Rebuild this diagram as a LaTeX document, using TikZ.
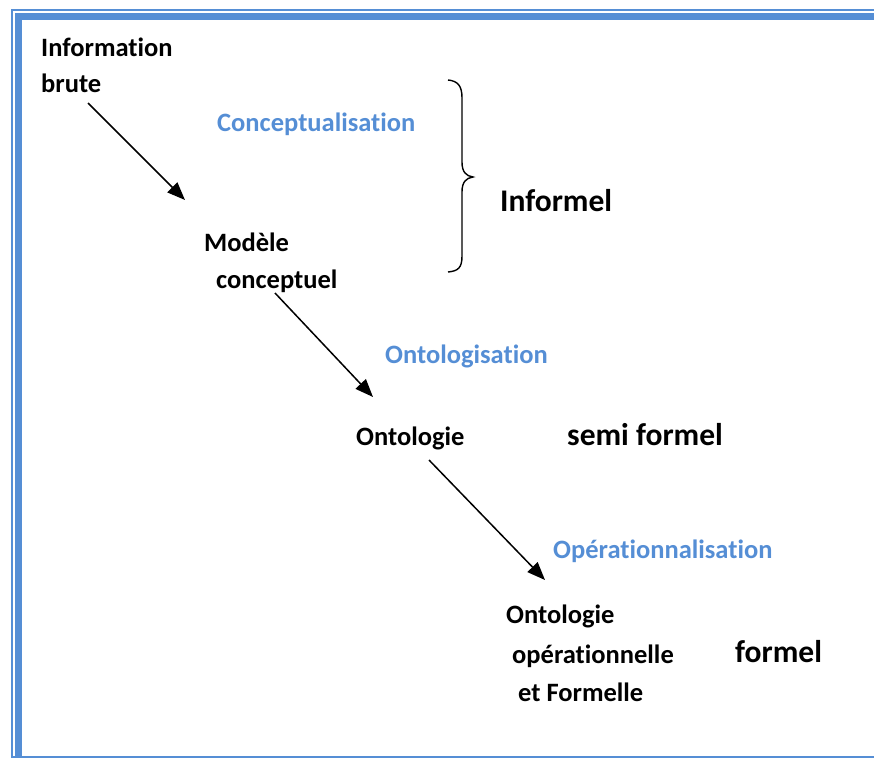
\documentclass[tikz,border=0pt]{standalone}
\usepackage{fontspec}
\setmainfont[Ligatures={NoCommon}]{Carlito}
\usetikzlibrary{arrows.meta}
\definecolor{wblue}{RGB}{85,142,213}
\begin{document}
\begin{tikzpicture}[x=1pt,y=-1pt,
  lbl/.style={anchor=base west,inner sep=0pt,font=\fontsize{26.5}{32}\selectfont\bfseries},
  phase/.style={lbl,text=wblue},
  level/.style={anchor=base west,inner sep=0pt,font=\fontsize{31.5}{38}\selectfont\bfseries},
  flow/.style={line width=1.5pt,-{Triangle[length=18pt,width=14pt]}},
  frame/.style={draw=wblue}]
\useasboundingbox (0,0) rectangle (874,758);
% frame
\draw[frame,line width=2pt] (874,10) -- (12,10) -- (12,758);
\draw[frame,line width=7pt] (874,16.5) -- (18,16.5) -- (18,758);
\draw[frame,line width=1.5pt] (12,757) -- (874,757);
% labels
\node[lbl] (info1) at (41,56) {Information};
\node[lbl] (info2) at (41,92) {brute};
\node[phase] (concep) at (217,131) {Conceptualisation};
\node[level] (informel) at (500,211) {Informel};
\node[lbl] (mod1) at (204,251) {Modèle};
\node[lbl] (mod2) at (216,288) {conceptuel};
\node[phase] (ontos) at (385,363) {Ontologisation};
\node[lbl] (onto) at (356,445) {Ontologie};
\node[level] (semi) at (567,445) {semi formel};
\node[phase] (oper) at (553,558) {Opérationnalisation};
\node[lbl] (op1) at (506,623) {Ontologie};
\node[lbl] (op2) at (512,663) {opérationnelle};
\node[lbl] (op3) at (518,701) {et Formelle};
\node[level] (formel) at (735,662) {formel};
% brace
\draw[line width=1.4pt] (448,80) .. controls (458,81) and (462,86) .. (462,98)
  -- (462,162) .. controls (462,172) and (466,176) .. (473,177)
  .. controls (466,178) and (462,182) .. (462,192)
  -- (462,256) .. controls (462,268) and (458,271) .. (448,272);
% arrows
\coordinate (a1s) at (88,103); \coordinate (a1e) at (185,200);
\coordinate (a2s) at (275,293); \coordinate (a2e) at (373,397);
\coordinate (a3s) at (429,460); \coordinate (a3e) at (545,580);
\draw[flow] (a1s) -- (a1e);
\draw[flow] (a2s) -- (a2e);
\draw[flow] (a3s) -- (a3e);
\end{tikzpicture}
\end{document}
